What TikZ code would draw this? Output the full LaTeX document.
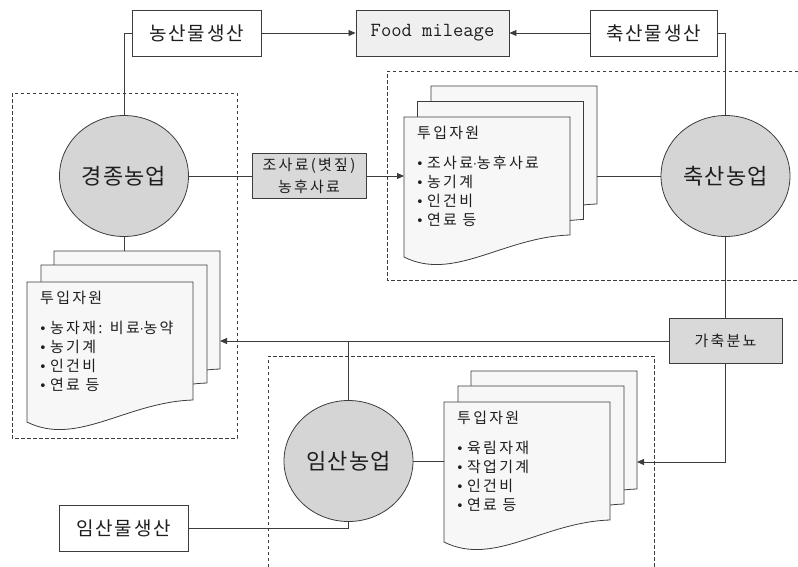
\documentclass[tikz,border=0pt]{standalone}
\usepackage{fontspec}
\usetikzlibrary{shapes.geometric,arrows.meta}
\newfontfamily\krdoc[LetterSpace=15]{Noto Sans CJK KR}
\newfontfamily\krlab[LetterSpace=10]{Noto Sans CJK KR}
\newfontfamily\krcir[LetterSpace=5]{Noto Sans CJK KR}
\newfontfamily\dvsans{DejaVu Sans}
\definecolor{lc}{HTML}{3C3C3C}
\definecolor{tc}{HTML}{1E1E1E}
\definecolor{circfill}{HTML}{D5D5D5}
\definecolor{gboxfill}{HTML}{D9D9D9}
\definecolor{fmfill}{HTML}{EFEFEF}
\definecolor{docfill}{HTML}{F7F7F7}
\newcommand\docpage[2]{%
  \draw[docsty] (#1,#2) -- (#1+166,#2) -- (#1+166,#2+118)
    .. controls (#1+99.6,#2+120) and (#1+49.8,#2+165) .. (#1,#2+140) -- cycle;}
\newcommand\bul{\makebox[11pt][l]{{\dvsans\fontsize{13}{15}\selectfont •}}}
\newcommand\mdot{{\dvsans\fontsize{12}{14}\selectfont ·}}
\newcommand\docitems[7]{%
  \node[doctxt] (#1t) at (#2+13,#3+16) {투입자원};
  \node[doctxt] (#1a) at (#2+12,#3+46) {\bul #4};
  \node[doctxt] (#1b) at (#2+12,#3+65) {\bul #5};
  \node[doctxt] (#1c) at (#2+12,#3+84) {\bul #6};
  \node[doctxt] (#1d) at (#2+12,#3+103) {\bul #7};}
\begin{document}
\begin{tikzpicture}[x=1pt,y=-1pt,
  conn/.style={draw=lc, line width=0.8pt},
  arr/.style={conn, -{Triangle[length=7pt,width=6pt]}},
  dashbox/.style={draw=lc, line width=0.7pt, dash pattern=on 3.5pt off 2.5pt},
  docsty/.style={draw=lc, line width=0.8pt, fill=docfill},
  labbox/.style={draw=lc, line width=0.9pt, fill=white, inner sep=0pt, text=tc,
     minimum height=46pt, font={\krlab\fontsize{19}{21}\selectfont}},
  gbox/.style={draw=lc, line width=0.9pt, fill=gboxfill, inner sep=0pt, text=tc,
     minimum height=45pt, align=center, font={\krdoc\fontsize{15}{22}\selectfont}},
  circ/.style={ellipse, draw=lc, line width=0.8pt, fill=circfill, inner sep=0pt, text=tc,
     minimum width=129pt, minimum height=121pt, font={\krcir\fontsize{22}{24}\selectfont}},
  doctxt/.style={anchor=west, inner sep=0pt, text=tc, font={\krdoc\fontsize{15}{17}\selectfont}}]
\useasboundingbox (0,0) rectangle (798,566);

% dashed regions
\draw[dashbox] (12,93) rectangle (237,438);
\draw[dashbox] (798,71) -- (387,71) -- (387,280) -- (798,280);
\draw[dashbox] (268,567) -- (268,356) -- (654,356) -- (654,567);

% top boxes
\node[labbox, minimum width=129pt] (nong) at (196.5,33) {농산물생산};
\node[labbox, minimum width=153pt, fill=fmfill, font={\ttfamily\fontsize{20}{22}\selectfont}] (fm) at (432.5,33) {Food mileage};
\node[labbox, minimum width=127pt] (chuk) at (653.5,33) {축산물생산};

% circles
\node[circ] (gyeong) at (124,176) {경종농업};
\node[circ] (chuksan) at (725.5,176) {축산농업};
\node[circ] (imsan) at (348.5,461) {임산농업};

% grey boxes
\node[gbox, minimum width=114pt] (josa) at (309,176) {조사료(볏짚)\\농후사료};
\node[gbox, minimum width=113pt] (gachuk) at (725.5,341) {가축분뇨};

% bottom-left box
\node[labbox, minimum width=129pt] (imsanmul) at (123.5,528) {임산물생산};

% document stacks
\docpage{431}{86}\docpage{417.5}{101.5}\docpage{404}{117}
\docitems{rd}{404}{117}{조사료\mdot 농후사료}{농기계}{인건비}{연료 등}
\docpage{54}{251}\docpage{41}{265}\docpage{27}{282}
\docitems{ld}{27}{282}{농자재: 비료\mdot 농약}{농기계}{인건비}{연료 등}
\docpage{471}{371}\docpage{458}{386}\docpage{444}{402}
\docitems{bd}{444}{402}{육림자재}{작업기계}{인건비}{연료 등}

% connector end points on the document stacks
\coordinate (rdocL) at (404,176);
\coordinate (rdocR) at (597,176);
\coordinate (ldocT) at (124,251);
\coordinate (ldocR) at (220,341);
\coordinate (bdocL) at (444,461);
\coordinate (bdocR) at (637,462);
\coordinate (jct) at (348.5,341);

% connectors
\draw[conn] (nong.west) -| (gyeong.north);
\draw[arr] (nong.east) -- (fm.west);
\draw[arr] (chuk.west) -- (fm.east);
\draw[conn] (chuk.east) -| (chuksan.north);
\draw[conn] (gyeong.east) -- (josa.west);
\draw[arr] (josa.east) -- (rdocL);
\draw[conn] (rdocR) -- (chuksan.west);
\draw[conn] (gyeong.south) -- (ldocT);
\draw[conn] (chuksan.south) -- (gachuk.north);
\draw[arr] (gachuk.west) -- (ldocR);
\draw[conn] (jct) -- (imsan.north);
\draw[arr] (gachuk.south) |- (bdocR);
\draw[conn] (imsan.east) -- (bdocL);
\draw[conn] (imsanmul.east) -| (imsan.south);
\end{tikzpicture}
\end{document}
